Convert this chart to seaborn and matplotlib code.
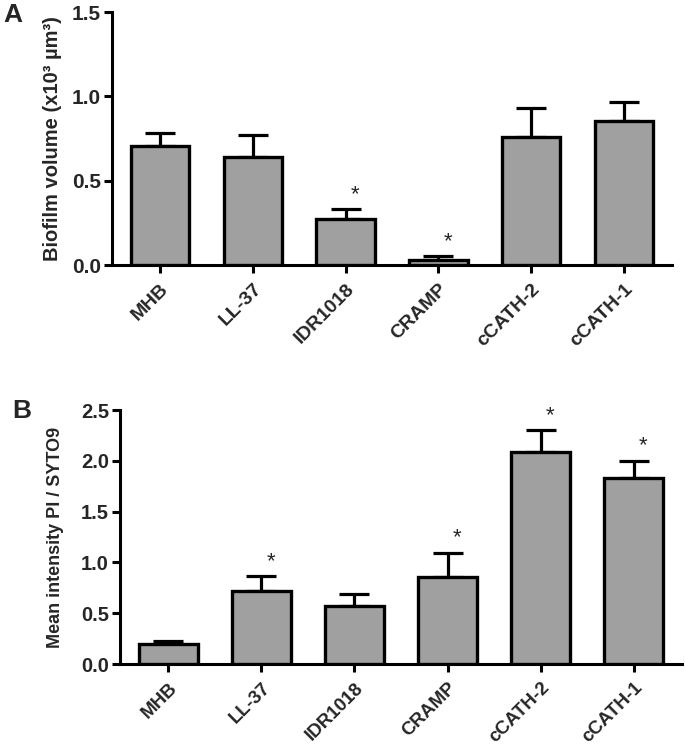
import numpy as np
import matplotlib
matplotlib.use("Agg")
import matplotlib.pyplot as plt
import seaborn as sns

# ---- data ----
groups = ["MHB", "LL-37", "IDR1018", "CRAMP", "cCATH-2", "cCATH-1"]

# panel A: biofilm volume (x10^3 um^3), mean and upper error
vol_mean = [0.705, 0.642, 0.273, 0.030, 0.760, 0.855]
vol_err = [0.075, 0.128, 0.059, 0.023, 0.172, 0.110]
vol_sig = [False, False, True, True, False, False]

# panel B: mean intensity PI / SYTO9
pi_mean = [0.197, 0.720, 0.570, 0.853, 2.090, 1.830]
pi_err = [0.033, 0.146, 0.116, 0.242, 0.210, 0.170]
pi_sig = [False, True, False, True, True, True]

sns.set_style("ticks")
plt.rcParams['font.family'] = ['Liberation Sans', 'DejaVu Sans']
plt.rcParams['font.weight'] = 'bold'
plt.rcParams['axes.labelweight'] = 'bold'

BAR_GREY = '#a0a0a0'


def draw_panel(ax, means, errs, sig, ymax, yticks, ylabel, tick_fs, xtick_fs, label_fs, labelpad):
    sns.barplot(x=groups, y=means, ax=ax, color=BAR_GREY, saturation=1,
                width=0.63, edgecolor='black', linewidth=2.4, zorder=3)
    x = np.arange(len(groups))
    # one-sided (upward) error bars, GraphPad style
    ax.errorbar(x, means, yerr=[np.zeros(len(errs)), errs], fmt='none',
                ecolor='black', elinewidth=2.3, capsize=10.5, capthick=2.3, zorder=2)
    for i, flag in enumerate(sig):
        if flag:
            ax.annotate("*", xy=(i + 0.1, means[i] + errs[i]), xytext=(0, 3),
                        textcoords='offset points', ha='center', va='bottom',
                        fontsize=16, fontweight='normal')

    ax.set_ylim(0, ymax)
    ax.set_xlim(-0.52, len(groups) - 0.48)
    ax.set_yticks(yticks)
    ax.set_yticklabels([f"{v:.1f}" for v in yticks], fontsize=tick_fs, fontweight='bold')
    ax.set_ylabel(ylabel, fontsize=label_fs, fontweight='bold', labelpad=labelpad)
    ax.set_xlabel("")
    plt.setp(ax.get_xticklabels(), rotation=45, ha='right', rotation_mode='anchor',
             fontsize=xtick_fs, fontweight='bold')
    sns.despine(ax=ax)
    for side in ['left', 'bottom']:
        ax.spines[side].set_linewidth(2.2)
        ax.spines[side].set_color('black')
    ax.tick_params(axis='both', width=2.2, length=6, color='black', direction='out')
    ax.tick_params(axis='y', pad=2)
    ax.tick_params(axis='x', pad=5)


fig = plt.figure(figsize=(6.85, 7.45), dpi=100)

ax1 = fig.add_axes([112 / 685, 1 - 265 / 745, (672 - 112) / 685, (265 - 12) / 745])
draw_panel(ax1, vol_mean, vol_err, vol_sig, 1.5, [0.0, 0.5, 1.0, 1.5],
           "Biofilm volume (x10³ µm³)", 15, 14, 14.5, 7)

ax2 = fig.add_axes([120 / 685, 1 - 664 / 745, (682 - 120) / 685, (664 - 410) / 745])
draw_panel(ax2, pi_mean, pi_err, pi_sig, 2.5, [0.0, 0.5, 1.0, 1.5, 2.0, 2.5],
           "Mean intensity PI / SYTO9", 14.5, 13.5, 13, 12)

fig.text(3 / 685, 1 - 15 / 745, "A", fontsize=19, fontweight='bold', va='center', ha='left')
fig.text(12 / 685, 1 - 411 / 745, "B", fontsize=19, fontweight='bold', va='center', ha='left')

fig.savefig("out.png", dpi=100)
plt.close(fig)
